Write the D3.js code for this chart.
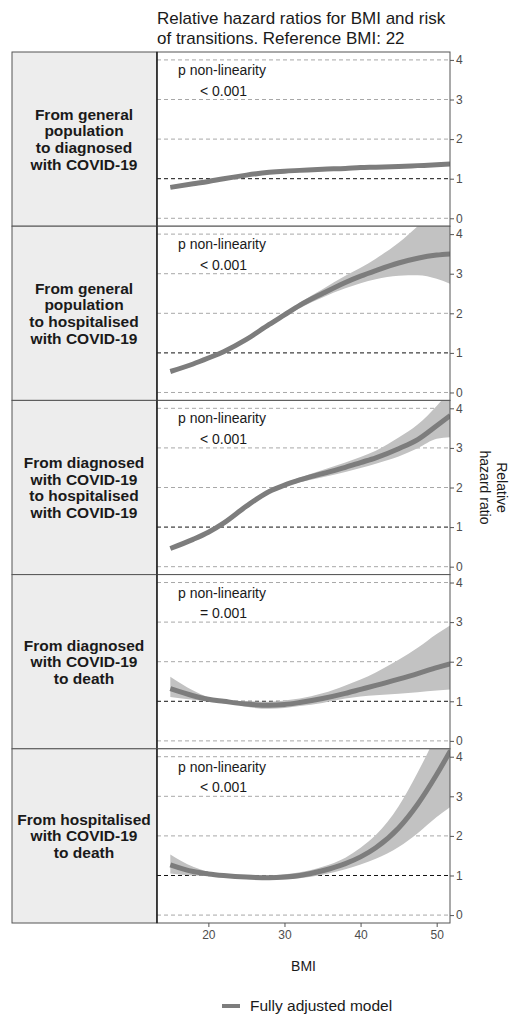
<!DOCTYPE html>
<html><head><meta charset="utf-8">
<script src="https://cdn.jsdelivr.net/npm/d3@7"></script>
<style>body{margin:0;background:#fff}svg{display:block;font-family:"Liberation Sans",Arial,sans-serif}</style>
</head><body><svg id="c" width="510" height="1018"></svg>
<script>
const titleLines = ["Relative hazard ratios for BMI and risk", "of transitions. Reference BMI: 22"];
const stripLabels = [
  ["From general", "population", "to diagnosed", "with COVID-19"],
  ["From general", "population", "to hospitalised", "with COVID-19"],
  ["From diagnosed", "with COVID-19", "to hospitalised", "with COVID-19"],
  ["From diagnosed", "with COVID-19", "to death"],
  ["From hospitalised", "with COVID-19", "to death"]
];
const pLabels = ["< 0.001", "< 0.001", "< 0.001", "= 0.001", "< 0.001"];
const xTicks = [20, 30, 40, 50];
const yTicks = [0, 1, 2, 3, 4];

const bmi = [15, 18, 20, 22, 25, 28, 30, 32, 35, 38, 40, 42, 45, 47.5, 50, 51.8];
const hr1 = [0.78, 0.87, 0.93, 1.0, 1.09, 1.16, 1.19, 1.21, 1.24, 1.26, 1.28, 1.29, 1.31, 1.33, 1.35, 1.37];
const lo1 = [0.76, 0.85, 0.92, 1.0, 1.08, 1.15, 1.18, 1.20, 1.23, 1.25, 1.26, 1.27, 1.29, 1.30, 1.32, 1.33];
const hi1 = [0.80, 0.89, 0.94, 1.0, 1.10, 1.17, 1.20, 1.22, 1.25, 1.27, 1.30, 1.31, 1.33, 1.36, 1.38, 1.41];

const hr2 = [0.53, 0.72, 0.87, 1.03, 1.34, 1.72, 1.96, 2.2, 2.5, 2.78, 2.94, 3.08, 3.27, 3.39, 3.47, 3.5];
const lo2 = [0.52, 0.71, 0.86, 1.02, 1.32, 1.69, 1.92, 2.13, 2.4, 2.63, 2.76, 2.86, 2.95, 2.96, 2.87, 2.74];
const hi2 = [0.54, 0.73, 0.88, 1.04, 1.36, 1.75, 2.0, 2.27, 2.61, 2.95, 3.15, 3.38, 3.78, 4.2, 4.6, 4.9];

const hr3 = [0.46, 0.69, 0.87, 1.1, 1.53, 1.9, 2.06, 2.19, 2.35, 2.51, 2.63, 2.75, 2.98, 3.21, 3.56, 3.82];
const lo3 = [0.45, 0.68, 0.86, 1.09, 1.5, 1.87, 2.02, 2.13, 2.26, 2.39, 2.49, 2.6, 2.78, 2.99, 3.23, 3.27];
const hi3 = [0.47, 0.70, 0.88, 1.11, 1.56, 1.93, 2.1, 2.25, 2.44, 2.63, 2.77, 2.93, 3.26, 3.59, 4.06, 4.47];

const hr4 = [1.32, 1.14, 1.05, 1.0, 0.93, 0.9, 0.92, 0.97, 1.07, 1.2, 1.3, 1.4, 1.56, 1.7, 1.85, 1.95];
const lo4 = [1.11, 1.04, 1.01, 1.0, 0.86, 0.81, 0.83, 0.88, 0.96, 1.07, 1.12, 1.15, 1.19, 1.23, 1.27, 1.3];
const hi4 = [1.62, 1.27, 1.1, 1.0, 1.0, 0.99, 1.02, 1.07, 1.2, 1.4, 1.55, 1.73, 2.05, 2.35, 2.7, 2.92];

const hr5 = [1.27, 1.1, 1.04, 1.0, 0.96, 0.945, 0.96, 1.0, 1.12, 1.3, 1.47, 1.7, 2.2, 2.8, 3.55, 4.15];
const lo5 = [1.05, 1.0, 0.99, 1.0, 0.91, 0.89, 0.9, 0.93, 1.02, 1.16, 1.28, 1.42, 1.72, 2.07, 2.48, 2.73];
const hi5 = [1.53, 1.22, 1.09, 1.0, 1.0, 1.0, 1.03, 1.08, 1.22, 1.45, 1.7, 2.02, 2.75, 3.6, 4.6, 5.5];

const series = [[hr1, lo1, hi1], [hr2, lo2, hi2], [hr3, lo3, hi3], [hr4, lo4, hi4], [hr5, lo5, hi5]];

const svg = d3.select("#c");
const L = 12, S = 157, R = 450, T = 52, panelH = 174.2;
const x = d3.scaleLinear().domain([13.25, 51.75]).range([S, R]);

// title
svg.append("g").selectAll("text").data(titleLines).join("text")
  .attr("x", S).attr("y", (d, i) => 24 + i * 19.5).attr("font-size", 17).attr("fill", "#1a1a1a").text(d => d);

const defs = svg.append("defs");

series.forEach((s, k) => {
  const top = T + k * panelH, bot = top + panelH;
  const y = d3.scaleLinear().domain([-0.2, 4.2]).range([bot, top]);
  const g = svg.append("g");
  // strip
  g.append("rect").attr("x", L).attr("y", top).attr("width", S - L).attr("height", panelH)
    .attr("fill", "#ededed").attr("stroke", "#555").attr("stroke-width", 1);
  const lines = stripLabels[k];
  const cy = (top + bot) / 2;
  g.append("g").selectAll("text").data(lines).join("text")
    .attr("x", (L + S) / 2 - 0.5).attr("y", (d, i) => cy + (i - (lines.length - 1) / 2) * 16.7 + 5.5)
    .attr("text-anchor", "middle").attr("font-size", 15.5).attr("font-weight", "bold").attr("fill", "#1a1a1a").text(d => d);
  // panel bg
  g.append("rect").attr("x", S).attr("y", top).attr("width", R - S).attr("height", panelH).attr("fill", "#fff");
  const cid = "clip" + k;
  defs.append("clipPath").attr("id", cid).append("rect").attr("x", S).attr("y", top).attr("width", R - S).attr("height", panelH);
  // grid
  g.append("g").selectAll("line").data(yTicks).join("line")
    .attr("x1", S).attr("x2", R).attr("y1", d => y(d)).attr("y2", d => y(d))
    .attr("stroke", d => d === 1 ? "#111" : "#a8a8a8").attr("stroke-width", 1).attr("stroke-dasharray", "4,3");
  const [hr, lo, hi] = s;
  const pts = bmi.map((b, i) => ({b, hr: hr[i], lo: lo[i], hi: hi[i]}));
  const cg = g.append("g").attr("clip-path", `url(#${cid})`);
  cg.append("path").datum(pts).attr("fill", "#c2c2c2")
    .attr("d", d3.area().x(d => x(d.b)).y0(d => y(d.lo)).y1(d => y(d.hi)).curve(d3.curveMonotoneX));
  cg.append("path").datum(pts).attr("fill", "none").attr("stroke", "#7d7d7d").attr("stroke-width", 5)
    .attr("d", d3.line().x(d => x(d.b)).y(d => y(d.hr)).curve(d3.curveMonotoneX));
  // annotation
  g.append("text").attr("x", 178).attr("y", top + 23).attr("font-size", 14).attr("fill", "#1a1a1a").text("p non-linearity");
  g.append("text").attr("x", 200).attr("y", top + 43.5).attr("font-size", 14).attr("fill", "#1a1a1a").text(pLabels[k]);
  // panel border
  g.append("rect").attr("x", S).attr("y", top).attr("width", R - S).attr("height", panelH)
    .attr("fill", "none").attr("stroke", "#555").attr("stroke-width", 1);
  g.append("line").attr("x1", S).attr("x2", S).attr("y1", top).attr("y2", bot).attr("stroke", "#111").attr("stroke-width", 1.3);
  // right axis
  const ax = g.append("g").attr("transform", `translate(${R},0)`).call(d3.axisRight(y).tickValues(yTicks).tickSize(4).tickPadding(2).tickFormat(d3.format("d")));
  ax.select(".domain").remove();
  ax.selectAll("line").attr("stroke", "#555");
  ax.selectAll("text").attr("font-size", 12).attr("fill", "#4d4d4d").attr("font-family", "Liberation Sans, Arial, sans-serif");
});

const bottom = T + 5 * panelH;
const xa = svg.append("g").attr("transform", `translate(0,${bottom})`).call(d3.axisBottom(x).tickValues(xTicks).tickSize(4).tickPadding(3));
xa.select(".domain").remove();
xa.selectAll("line").attr("stroke", "#555");
xa.selectAll("text").attr("font-size", 12).attr("fill", "#4d4d4d").attr("font-family", "Liberation Sans, Arial, sans-serif");

svg.append("text").attr("x", (S + R) / 2).attr("y", 971).attr("text-anchor", "middle").attr("font-size", 14).attr("fill", "#1a1a1a").text("BMI");

// right axis title
const yt = svg.append("g").attr("transform", `translate(488,${(T + bottom) / 2}) rotate(90)`);
yt.append("text").attr("x", 0).attr("y", -8.5).attr("text-anchor", "middle").attr("font-size", 14).attr("fill", "#1a1a1a").text("Relative");
yt.append("text").attr("x", 0).attr("y", 8).attr("text-anchor", "middle").attr("font-size", 14).attr("fill", "#1a1a1a").text("hazard ratio");

// legend
svg.append("line").attr("x1", 222).attr("x2", 240).attr("y1", 1006).attr("y2", 1006).attr("stroke", "#7d7d7d").attr("stroke-width", 4);
svg.append("text").attr("x", 250).attr("y", 1011).attr("font-size", 15.5).attr("fill", "#1a1a1a").text("Fully adjusted model");
</script></body></html>
